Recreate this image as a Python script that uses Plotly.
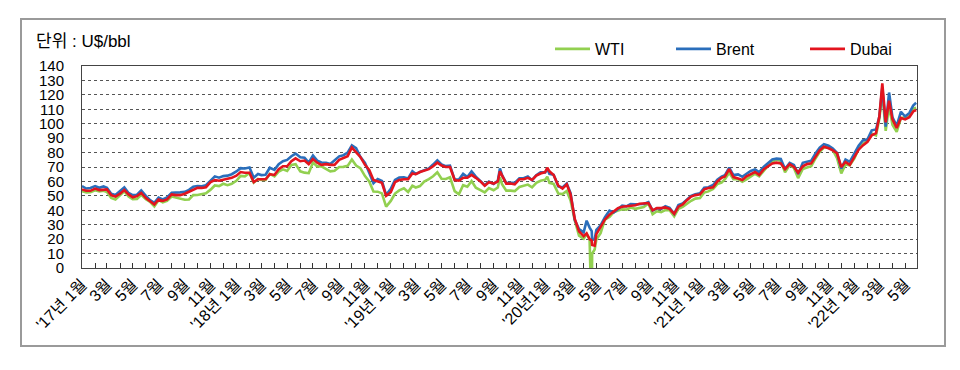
import plotly.graph_objects as go
import pandas as pd

# ---------------- data ----------------
# sampling days within each month (default 1st, 11th, 21st; a few months have extra dates)
DEFAULT_DAYS = [1, 11, 21]
SPECIAL_DAYS = {
    "2019-09": [1, 11, 16, 21],
    "2020-01": [1, 6, 11, 21],
    "2020-04": [1, 8, 15, 20, 21, 27],
    "2022-03": [1, 8, 16, 24],
    "2022-05": [1, 11, 20, 27],
}

WTI = [
    # 2017
    53.3, 52.4, 52.6, 53.9, 53.0, 53.5, 52.6, 48.5, 47.5, 50.6, 53.2, 49.6, 47.7, 47.8, 50.7, 47.6, 45.8, 42.7,
    47.0, 45.5, 46.5, 49.5, 48.8, 47.6, 47.3, 47.5, 50.5, 50.6, 51.3, 51.8, 54.3, 57.2, 56.8, 58.4, 57.4, 58.4,
    # 2018
    60.4, 63.8, 63.5, 65.8, 59.2, 61.7, 61.0, 61.0, 65.2, 63.5, 66.8, 68.4, 67.3, 71.4, 72.0, 67.0, 66.1, 65.7,
    73.1, 70.4, 70.4, 68.8, 67.0, 67.4, 70.0, 70.1, 70.8, 75.2, 71.0, 69.2, 63.7, 60.0, 53.0, 52.9, 51.7, 42.5,
    # 2019
    46.5, 51.6, 53.8, 55.3, 52.7, 57.0, 55.8, 56.8, 59.9, 61.6, 63.6, 66.3, 61.9, 61.7, 62.9, 53.3, 51.1, 57.4,
    56.3, 60.2, 55.6, 54.0, 52.4, 55.4, 53.9, 55.8, 62.9, 58.1, 53.6, 53.6, 53.3, 56.2, 56.9, 57.8, 55.9, 59.0, 60.4,
    # 2020
    61.2, 63.3, 59.0, 58.3, 51.6, 51.2, 53.4, 46.8, 32.9, 22.4, 20.3, 23.6, 19.9, -37.6, 10.0, 12.8,
    19.8, 24.1, 33.5, 35.4, 38.7, 39.8, 40.7, 40.5, 41.9, 41.0, 41.6, 42.3, 44.8, 37.3, 39.3, 38.7, 40.2, 40.0,
    35.8, 41.1, 42.4, 44.6, 46.6, 48.1,
    # 2021
    48.5, 52.3, 53.1, 54.8, 58.2, 59.2, 61.5, 66.0, 61.6, 61.5, 59.7, 61.4, 63.6, 65.3, 63.6, 67.7, 70.9, 73.7,
    75.2, 74.1, 66.4, 71.3, 69.3, 62.3, 68.6, 69.7, 70.6, 75.9, 80.5, 83.4, 84.0, 81.6, 76.1, 65.6, 71.7, 71.1,
    # 2022
    76.0, 82.6, 86.0, 88.2, 93.1, 91.9, 103.4, 121.5, 95.0, 112.3, 99.3, 94.3, 103.8, 104.7, 105.7, 110.3, 111.0,
]

BRENT = [
    # 2017
    56.8, 55.1, 55.5, 56.8, 55.6, 56.5, 55.6, 51.4, 50.6, 53.5, 55.9, 52.0, 50.5, 50.8, 53.8, 50.0, 47.0, 45.2,
    48.8, 47.5, 49.0, 52.2, 52.1, 52.4, 52.8, 54.2, 56.4, 56.8, 56.6, 57.4, 60.6, 63.5, 62.6, 63.7, 64.0, 65.0,
    # 2018
    66.9, 69.2, 69.0, 69.6, 62.6, 65.2, 64.4, 64.6, 69.5, 68.0, 72.0, 74.0, 74.9, 77.5, 79.3, 76.8, 76.5, 73.0,
    78.0, 74.4, 73.1, 73.0, 72.1, 74.7, 77.4, 78.2, 80.0, 85.0, 83.0, 77.0, 72.9, 66.0, 58.8, 61.7, 60.3, 50.5,
    # 2019
    54.9, 61.0, 62.7, 62.8, 62.1, 67.1, 65.1, 66.6, 67.9, 69.0, 71.7, 74.6, 71.8, 70.6, 71.0, 61.3, 61.3, 65.2,
    63.0, 67.0, 63.3, 60.5, 57.4, 59.9, 58.3, 60.4, 69.0, 64.3, 58.9, 59.1, 59.0, 62.1, 62.2, 63.4, 60.9, 64.3, 66.4,
    # 2020
    66.3, 68.9, 65.3, 64.6, 56.6, 55.8, 58.5, 51.9, 33.2, 27.0, 24.7, 32.8, 28.0, 25.6, 19.3, 20.0,
    26.4, 29.6, 35.1, 39.8, 38.5, 41.0, 43.2, 42.7, 44.3, 44.2, 44.5, 44.4, 45.6, 39.8, 41.4, 40.9, 42.9, 41.7,
    37.5, 43.6, 44.8, 47.6, 50.0, 51.2,
    # 2021
    51.8, 55.6, 56.0, 57.5, 61.2, 63.4, 64.4, 69.6, 64.4, 64.9, 63.2, 65.3, 67.3, 68.3, 66.4, 70.2, 72.7, 75.2,
    75.8, 75.6, 68.6, 72.9, 71.4, 65.2, 72.9, 73.9, 74.4, 79.3, 83.4, 85.8, 84.7, 82.9, 79.7, 68.9, 75.2, 73.5,
    # 2022
    78.9, 84.7, 88.4, 89.2, 95.4, 96.0, 104.9, 125.0, 98.0, 121.6, 104.4, 98.5, 108.3, 105.0, 107.5, 112.6, 114.5,
]

DUBAI = [
    # 2017
    54.5, 53.5, 53.5, 55.0, 54.0, 54.5, 54.5, 50.5, 49.5, 51.5, 54.0, 51.0, 49.0, 49.8, 52.0, 48.5, 46.0, 44.0,
    47.5, 46.5, 47.5, 51.0, 50.5, 50.5, 51.5, 52.8, 54.5, 55.5, 55.5, 56.0, 59.5, 61.0, 60.5, 61.0, 61.5, 62.5,
    # 2018
    64.0, 66.5, 66.0, 66.0, 59.5, 61.5, 61.5, 61.5, 65.0, 64.5, 68.5, 70.5, 70.5, 74.0, 76.0, 74.0, 74.5, 72.0,
    75.5, 73.0, 71.5, 72.0, 71.5, 71.5, 75.0, 76.0, 77.5, 83.5, 80.5, 77.0, 71.5, 68.0, 61.0, 60.0, 59.0, 50.0,
    # 2019
    52.5, 59.5, 61.0, 61.5, 61.5, 65.5, 65.0, 66.5, 67.5, 68.5, 70.5, 73.0, 71.0, 70.0, 70.0, 61.0, 60.5, 62.5,
    62.5, 64.5, 62.5, 60.0, 57.0, 59.5, 58.5, 60.0, 67.0, 64.5, 58.5, 58.5, 58.0, 61.5, 61.5, 62.5, 61.0, 64.0, 65.5,
    # 2020
    66.5, 69.5, 67.0, 64.5, 57.0, 55.0, 58.0, 51.0, 34.0, 25.5, 22.0, 24.0, 20.0, 19.0, 16.0, 15.5,
    23.5, 28.5, 33.5, 37.0, 39.5, 41.5, 42.5, 42.8, 43.5, 43.5, 44.5, 44.5, 45.0, 40.0, 41.5, 41.5, 42.0, 41.0,
    37.5, 42.5, 44.0, 47.0, 49.5, 50.5,
    # 2021
    51.0, 54.5, 55.5, 56.0, 60.0, 62.5, 63.5, 68.5, 63.0, 62.0, 61.0, 63.5, 65.0, 66.5, 64.5, 68.5, 70.5, 72.5,
    73.0, 72.5, 68.5, 72.0, 70.0, 66.0, 70.5, 72.0, 72.5, 77.0, 81.5, 84.0, 83.0, 81.5, 79.5, 70.0, 73.5, 71.5,
    # 2022
    77.0, 82.0, 85.0, 87.5, 92.0, 93.5, 105.0, 127.9, 101.0, 116.0, 103.0, 97.0, 104.0, 103.0, 104.5, 108.5, 109.5,
]

TICK_LABELS = [
    "'17년 1월", "3월", "5월", "7월", "9월", "11월",
    "'18년 1월", "3월", "5월", "7월", "9월", "11월",
    "'19년 1월", "3월", "5월", "7월", "9월", "11월",
    "'20년1월", "3월", "5월", "7월", "9월", "11월",
    "'21년 1월", "3월", "5월", "7월", "9월", "11월",
    "'22년 1월", "3월", "5월",
]

# ---------------- build dates ----------------
months = pd.period_range("2017-01", "2022-05", freq="M")
DATES = []
for m in months:
    key = str(m)
    for d in SPECIAL_DAYS.get(key, DEFAULT_DAYS):
        DATES.append(f"{key}-{d:02d}")
assert len(DATES) == len(WTI) == len(BRENT) == len(DUBAI), (len(DATES), len(WTI), len(BRENT), len(DUBAI))

month_starts = [f"{m}-01" for m in months]
major_ticks = month_starts[::2]
minor_ticks = month_starts[1::2]

FONT = "Liberation Sans, Arial, Noto Sans CJK KR, sans-serif"

# ---------------- figure ----------------
L, R, T, B = 82, 43, 66, 102
W, H = 960, 370
pw, ph = W - L - R, H - T - B

def px_x(x):
    return (x - L) / pw

def px_y(y):
    return (H - B - y) / ph

fig = go.Figure()
fig.add_trace(go.Scatter(x=DATES, y=WTI, name="WTI", mode="lines",
                         line=dict(color="#92D050", width=2.6), legend="legend"))
fig.add_trace(go.Scatter(x=DATES, y=BRENT, name="Brent", mode="lines",
                         line=dict(color="#2A6EBB", width=2.6), legend="legend2"))
fig.add_trace(go.Scatter(x=DATES, y=DUBAI, name="Dubai", mode="lines",
                         line=dict(color="#E3141E", width=2.6), legend="legend3"))

legend_common = dict(orientation="h", yanchor="middle", xanchor="left",
                     font=dict(family=FONT, size=16, color="#000"),
                     bgcolor="rgba(0,0,0,0)", borderwidth=0, itemwidth=35)

fig.update_layout(
    width=W, height=H,
    margin=dict(l=L, r=R, t=T, b=B, autoexpand=False),
    paper_bgcolor="white", plot_bgcolor="white",
    font=dict(family=FONT, size=16, color="#000"),
    showlegend=True,
    legend=dict(x=px_x(550), y=px_y(49), **legend_common),
    legend2=dict(x=px_x(671), y=px_y(49), **legend_common),
    legend3=dict(x=px_x(805), y=px_y(49), **legend_common),
    xaxis=dict(
        type="date", automargin=False,
        range=["2017-01-01", "2022-05-29"],
        tickmode="array", tickvals=major_ticks, ticktext=TICK_LABELS,
        tickangle=-45,
        ticks="inside", ticklen=5, tickcolor="#333", tickwidth=1,
        tickfont=dict(family=FONT, size=16, color="#000"),
        minor=dict(tickmode="array", tickvals=minor_ticks, ticks="inside", ticklen=5,
                   tickcolor="#333", tickwidth=1, showgrid=False),
        showgrid=False, zeroline=False,
        showline=True, linecolor="#444", linewidth=1, mirror=True,
    ),
    yaxis=dict(
        automargin=False,
        range=[0, 140], dtick=10, tick0=0,
        ticks="", ticklabelstandoff=14,
        tickfont=dict(family=FONT, size=15, color="#000"),
        showgrid=True, gridcolor="#555", gridwidth=1, griddash="dot",
        zeroline=False,
        showline=True, linecolor="#444", linewidth=1, mirror=True,
    ),
    shapes=[dict(type="rect", xref="paper", yref="paper",
                 x0=px_x(21), x1=px_x(945), y0=px_y(346), y1=px_y(19),
                 line=dict(color="#9A9A9A", width=2), fillcolor="rgba(0,0,0,0)", layer="below")],
    annotations=[dict(text="단위 : U$/bbl", xref="paper", yref="paper",
                      x=px_x(34), y=px_y(42), xanchor="left", yanchor="middle",
                      showarrow=False, font=dict(family=FONT, size=17, color="#000"))],
)

fig.write_html("out.html", config={"displayModeBar": False},
               post_script="document.body.style.margin='0';document.body.style.padding='0';")
